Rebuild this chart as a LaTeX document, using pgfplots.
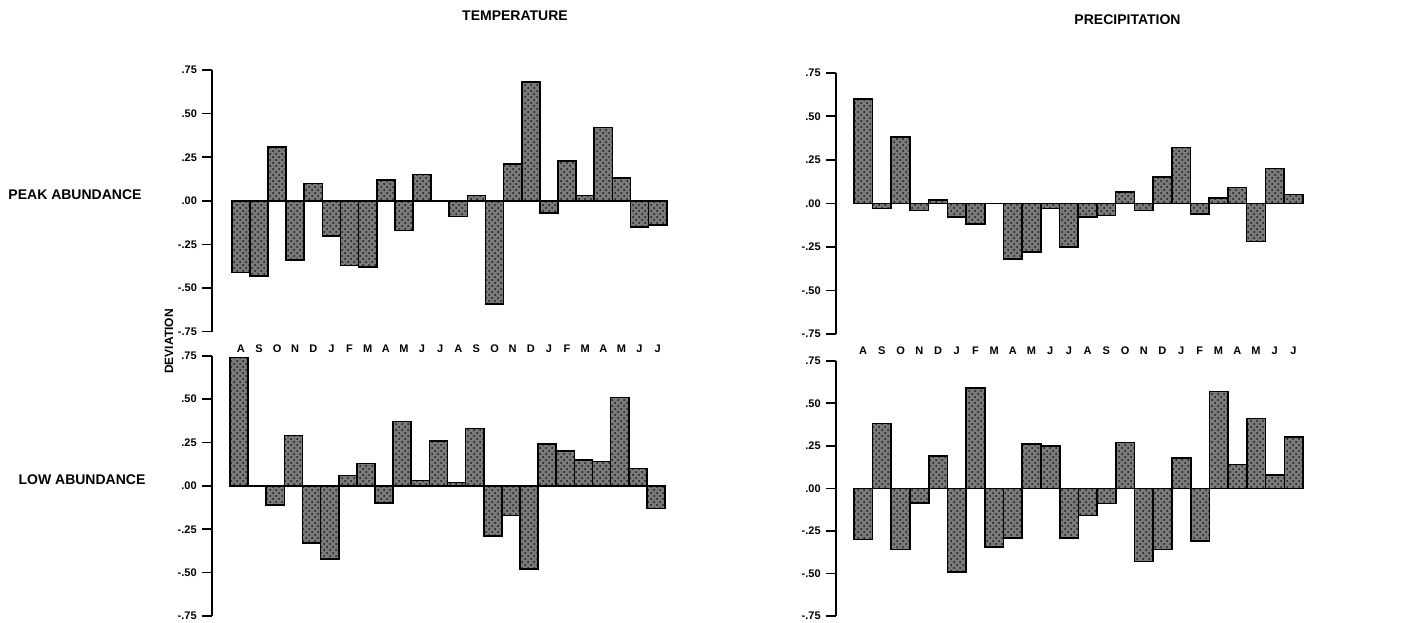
\documentclass[border=0pt]{standalone}
\usepackage{fontspec}
\setmainfont{Liberation Sans}
\usepackage{pgfplots}
\pgfplotsset{compat=1.18}
\usetikzlibrary{patterns}

\pgfplotstableread{
x tpeak tlow ppeak plow
0  -0.41  0.74  0.60 -0.30
1  -0.43  0.00 -0.03  0.38
2   0.31 -0.11  0.38 -0.36
3  -0.34  0.29 -0.04 -0.085
4   0.10 -0.33  0.02  0.19
5  -0.20 -0.42 -0.08 -0.49
6  -0.37  0.06 -0.12  0.59
7  -0.38  0.13  0.00 -0.345
8   0.12 -0.10 -0.32 -0.29
9  -0.17  0.37 -0.28  0.26
10  0.15  0.03 -0.03  0.25
11  0.00  0.26 -0.25 -0.29
12 -0.09  0.02 -0.08 -0.16
13  0.03  0.33 -0.07 -0.09
14 -0.59 -0.29  0.065 0.27
15  0.21 -0.17 -0.04 -0.43
16  0.68 -0.48  0.15 -0.36
17 -0.07  0.24  0.32  0.18
18  0.23  0.20 -0.06 -0.31
19  0.03  0.15  0.03  0.57
20  0.42  0.14  0.09  0.14
21  0.13  0.51 -0.22  0.41
22 -0.15  0.10  0.20  0.08
23 -0.14 -0.13  0.05  0.30
}\data

\pgfplotsset{
  dev/.style={
    scale only axis,
    anchor=south west,
    axis x line*=bottom,
    axis y line*=left,
    x axis line style={draw=none},
    y axis line style={line width=0.8pt},
    ymin=-0.75, ymax=0.75, xmax=23.5,
    ytick={-0.75,-0.5,-0.25,0,0.25,0.5,0.75},
    yticklabels={-.75,-.50,-.25,.00,.25,.50,.75},
    xtick={0,...,23},
    xticklabels={A,S,O,N,D,J,F,M,A,M,J,J,A,S,O,N,D,J,F,M,A,M,J,J},
    tick align=outside,
    major tick length=5pt,
    xtick style={draw=none},
    ytick style={line width=0.8pt, black},
    ticklabel style={font=\bfseries\fontsize{5.5}{6.5}\selectfont},
    yticklabel style={xshift=1pt},
    xticklabel style={yshift=2pt},
    ybar, bar width=1,
    clip=false,
  },
  devbar/.style={draw=black, line width=0.8pt, fill=black!52,
    postaction={pattern=crosshatch dots, pattern color=black!90}},
}

\begin{document}
\begin{tikzpicture}
\useasboundingbox (0,0) rectangle (701.5pt,311pt);
% top-left: temperature, peak
\begin{axis}[dev, at={(106pt,145.15pt)}, width=227.35pt, height=130.85pt, xmin=-1.59]
\addplot[devbar] table[x=x,y=tpeak]{\data};
\draw[line width=0.8pt] (axis cs:-0.5,0) -- (axis cs:23.5,0);
\end{axis}
% bottom-left: temperature, low
\begin{axis}[dev, at={(105.85pt,3pt)}, width=226.65pt, height=130.15pt, xmin=-1.51, xtick=\empty]
\addplot[devbar] table[x=x,y=tlow]{\data};
\draw[line width=0.8pt] (axis cs:-0.5,0) -- (axis cs:23.5,0);
\end{axis}
% top-right: precipitation, peak
\begin{axis}[dev, at={(417.85pt,144pt)}, width=233.5pt, height=130.65pt, xmin=-1.47]
\addplot[devbar] table[x=x,y=ppeak]{\data};
\draw[line width=0.8pt] (axis cs:-0.5,0) -- (axis cs:23.5,0);
\end{axis}
% bottom-right: precipitation, low
\begin{axis}[dev, at={(417.85pt,3pt)}, width=233.65pt, height=127.65pt, xmin=-1.47, xtick=\empty]
\addplot[devbar] table[x=x,y=plow]{\data};
\draw[line width=0.8pt] (axis cs:-0.5,0) -- (axis cs:23.5,0);
\end{axis}
\node[font=\bfseries\fontsize{7}{8}\selectfont] at (257.5pt,303pt) {TEMPERATURE};
\node[font=\bfseries\fontsize{7}{8}\selectfont] at (563.75pt,301.25pt) {PRECIPITATION};
\node[font=\bfseries\fontsize{7}{8}\selectfont] at (37.5pt,213.5pt) {PEAK ABUNDANCE};
\node[font=\bfseries\fontsize{7}{8}\selectfont] at (41pt,71pt) {LOW ABUNDANCE};
\node[font=\bfseries\fontsize{6}{7}\selectfont, rotate=90] at (84.5pt,140.25pt) {DEVIATION};
\end{tikzpicture}
\end{document}
